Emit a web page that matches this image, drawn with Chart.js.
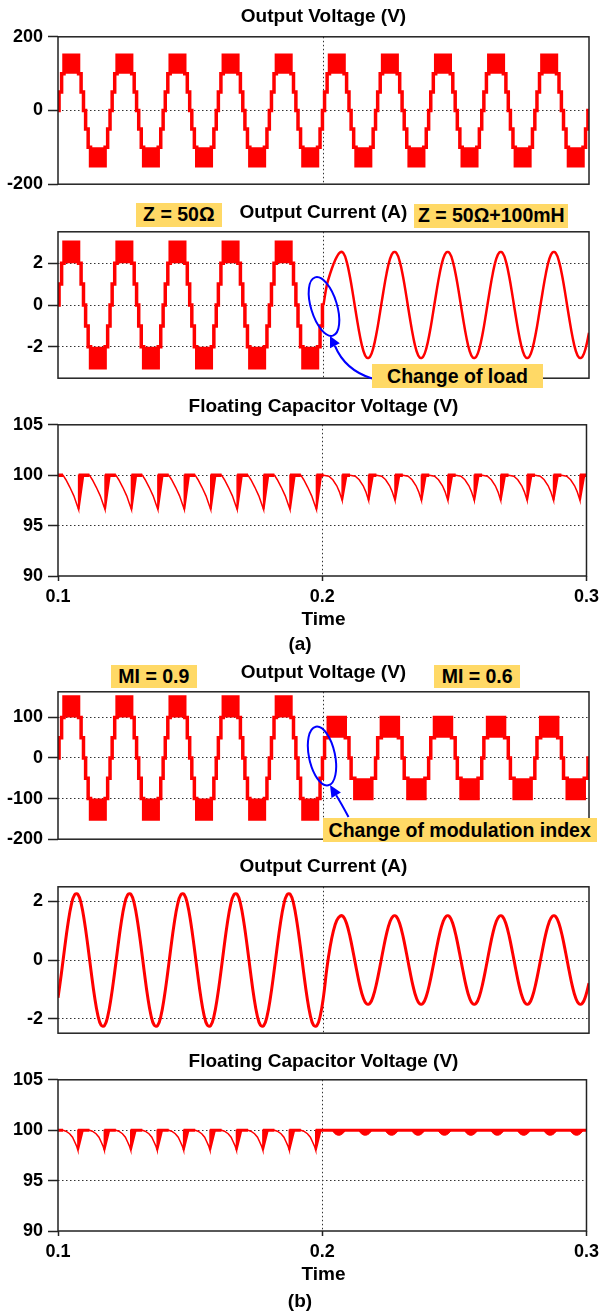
<!DOCTYPE html>
<html lang="en">
<head>
<meta charset="UTF-8">
<title>Output voltage, output current and floating capacitor voltage</title>
<script src="https://cdn.jsdelivr.net/npm/chart.js"></script>
<style>
  body { margin: 0; background: #fff; font-family: "Liberation Sans", Arial, sans-serif; }
  #page { position: relative; width: 604px; height: 1313px; overflow: hidden; }
  canvas { position: absolute; left: 0; }
  .ttl { position: absolute; left: 123.5px; width: 400px; text-align: center; font-weight: bold;
         font-size: 19px; line-height: 19px; color: #000; white-space: nowrap; z-index: 3; }
  .box { position: absolute; background: #ffd966; font-weight: bold; font-size: 19.5px;
         text-align: center; color: #000; white-space: nowrap; z-index: 3; }
  svg { position: absolute; left: 0; top: 0; z-index: 2; }
</style>
</head>
<body>
<div id="page">
  <canvas id="c1" width="604" height="179" style="top:21px"></canvas>
  <canvas id="c2" width="604" height="178" style="top:216px"></canvas>
  <canvas id="c3" width="604" height="207" style="top:409px"></canvas>
  <canvas id="c4" width="604" height="179" style="top:676px"></canvas>
  <canvas id="c5" width="604" height="178" style="top:871px"></canvas>
  <canvas id="c6" width="604" height="207" style="top:1064px"></canvas>

  <div class="ttl" style="top:6px">Output Voltage (V)</div>
  <div class="ttl" style="top:201.6px">Output Current (A)</div>
  <div class="ttl" style="top:395.6px">Floating Capacitor Voltage (V)</div>
  <div class="ttl" style="top:608.9px">Time</div>
  <div class="ttl" style="top:634px; left:100px">(a)</div>
  <div class="ttl" style="top:662.2px">Output Voltage (V)</div>
  <div class="ttl" style="top:856.2px">Output Current (A)</div>
  <div class="ttl" style="top:1050.6px">Floating Capacitor Voltage (V)</div>
  <div class="ttl" style="top:1263.9px">Time</div>
  <div class="ttl" style="top:1290.6px; left:100px">(b)</div>

  <div class="box" style="left:136px; top:203.3px; width:85.7px; height:23.4px; line-height:23.4px">Z = 50Ω</div>
  <div class="box" style="left:414.3px; top:204.3px; width:154px; height:23.4px; line-height:23.4px">Z = 50Ω+100mH</div>
  <div class="box" style="left:371.7px; top:363.5px; width:171.6px; height:24px; line-height:24px">Change of load</div>
  <div class="box" style="left:111px; top:665px; width:85.7px; height:23.4px; line-height:23.4px">MI = 0.9</div>
  <div class="box" style="left:434.3px; top:665px; width:85.7px; height:23.4px; line-height:23.4px">MI = 0.6</div>
  <div class="box" style="left:322.7px; top:817.7px; width:274px; height:24px; line-height:24px">Change of modulation index</div>

  <svg width="604" height="1313" viewBox="0 0 604 1313">
    <ellipse cx="324" cy="306.5" rx="13" ry="30.5" transform="rotate(-17 324 306.5)" fill="none" stroke="#0000ff" stroke-width="2"/>
    <path d="M 372 378.5 Q 345 370 335 346" fill="none" stroke="#0000ff" stroke-width="2"/>
    <polygon points="330,336 339.8,343.3 330,348.3" fill="#0000ff"/>
    <ellipse cx="322" cy="756" rx="13" ry="30" transform="rotate(-12 322 756)" fill="none" stroke="#0000ff" stroke-width="2"/>
    <path d="M 348.5 817 Q 341 803 336.2 795.3" fill="none" stroke="#0000ff" stroke-width="2"/>
    <polygon points="330,785 340.9,792.5 331.5,798.1" fill="#0000ff"/>
  </svg>
</div>

<script>
// ---- time base (s)
const xTicks = [0.1, 0.2, 0.3];
const period = 0.02;
const halfPer = 0.01;
const cyc1 = [0.10, 0.12, 0.14, 0.16, 0.18];
const cyc2 = [0.20, 0.22, 0.24, 0.26, 0.28];
const halves1 = [0.10, 0.11, 0.12, 0.13, 0.14, 0.15, 0.16, 0.17, 0.18, 0.19];
const halves2 = [0.20, 0.21, 0.22, 0.23, 0.24, 0.25, 0.26, 0.27, 0.28, 0.29];

// ---- staircase output, one fundamental cycle (phase = fraction of period)
const stepPh09 = [0, 0.02, 0.068, 0.113, 0.387, 0.435, 0.48, 0.52, 0.568, 0.613, 0.887, 0.935, 0.98];
const voltLvl09 = [0, 50, 100, 150, 100, 50, 0, -50, -100, -150, -100, -50, 0];
const curLvl09 = [0, 1, 2, 3, 2, 1, 0, -1, -2, -3, -2, -1, 0];
const blkPos09 = [0.113, 0.387];
const blkNeg09 = [0.613, 0.887];

const stepPh06 = [0, 0.02, 0.09, 0.41, 0.48, 0.52, 0.59, 0.91, 0.98];
const voltLvl06 = [0, 50, 100, 50, 0, -50, -100, -50, 0];
const blkPos06 = [0.09, 0.41];
const blkNeg06 = [0.59, 0.91];

// ---- sinusoidal currents, 16 samples per cycle
const curA2First = [0, 0.95, 1.5, 1.95, 2.3, 2.52, 2.48, 2.06, 1.33, 0.39, -0.6, -1.5, -2.18, -2.52, -2.48, -2.06];
const curA2 = [-1.33, -0.39, 0.6, 1.5, 2.18, 2.52, 2.48, 2.06, 1.33, 0.39, -0.6, -1.5, -2.18, -2.52, -2.48, -2.06];
const curB1 = [-1.29, -0.48, 0.41, 1.24, 1.88, 2.23, 2.24, 1.92, 1.29, 0.48, -0.41, -1.24, -1.88, -2.23, -2.24, -1.92];
const curB2First = [-1.25, -0.3, 0.45, 1.0, 1.35, 1.5, 1.48, 1.23, 0.79, 0.23, -0.36, -0.9, -1.3, -1.5, -1.48, -1.23];
const curB2 = [-0.79, -0.23, 0.36, 0.9, 1.3, 1.5, 1.48, 1.23, 0.79, 0.23, -0.36, -0.9, -1.3, -1.5, -1.48, -1.23];

// ---- floating capacitor dips, one half cycle (phase = fraction of half period)
const capA1Ph = [0.19, 0.3, 0.45, 0.6, 0.7, 0.78];
const capA1V = [100, 99.55, 98.8, 97.95, 97.2, 96.6];
const capA1Top = 0.96;
const capA2Ph = [0.05, 0.25, 0.4, 0.55, 0.65, 0.753];
const capA2V = [100, 99.9, 99.55, 98.95, 98.35, 97.5];
const capA2Top = 0.92;
const capB1Ph = [0.19, 0.3, 0.44, 0.55, 0.63, 0.7, 0.754];
const capB1V = [100, 99.9, 99.65, 99.3, 98.85, 98.45, 98.0];
const capB1Top = 0.94;
const rippleB2Ph = [0.38, 0.48, 0.63, 0.77, 0.88];
const rippleB2V = [100, 99.65, 99.5, 99.65, 100];

const red = '#ff0000';
const fontFam = '"Liberation Sans", Arial, sans-serif';

function stairs(cycles, ph, lvl) {
  const out = [];
  cycles.forEach(c => ph.forEach((p, i) => out.push({x: c + p * period, y: lvl[i]})));
  return out;
}

function blocks(cycles, ph, outer) {
  const out = [];
  cycles.forEach(c => {
    out.push({x: c + ph[0] * period, y: outer}, {x: c + ph[1] * period, y: outer}, {x: c + ph[1] * period, y: null});
  });
  return out;
}

function wave(cycles, tmpl, first) {
  const out = [];
  cycles.forEach((c, k) => {
    const vals = (k === 0 && first) ? first : tmpl;
    vals.forEach((v, j) => out.push({x: c + j * period / vals.length, y: v}));
  });
  return out;
}

function capTrace(segs) {
  const line = [{x: 0.1, y: 100}];
  const wedge = [];
  const flat = [{x: 0.1, y: 100}, {x: segs[0].h + segs[0].ph[0] * halfPer, y: 100}, {x: 0.1, y: null}];
  segs.forEach((s, k) => {
    s.ph.forEach((p, i) => line.push({x: s.h + p * halfPer, y: s.v[i]}));
    const last = s.ph.length - 1;
    const tMin = s.h + s.ph[last] * halfPer;
    line.push({x: tMin, y: 100});
    wedge.push({x: tMin, y: s.v[last]}, {x: s.h + s.top * halfPer, y: 100}, {x: s.h + s.top * halfPer, y: null});
    const nxt = segs[k + 1];
    const tEnd = nxt ? nxt.h + nxt.ph[0] * halfPer : 0.3;
    flat.push({x: tMin, y: 100}, {x: tEnd, y: 100}, {x: tEnd, y: null});
  });
  line.push({x: 0.3, y: 100});
  return {line, wedge, flat};
}

function ds(data, w, extra) {
  return Object.assign({data, borderColor: red, backgroundColor: red, borderWidth: w,
    pointRadius: 0, fill: false, tension: 0}, extra || {});
}

const framePlugin = {
  id: 'frame',
  afterDatasetsDraw(chart) {
    const {ctx, chartArea: a} = chart;
    ctx.save();
    ctx.strokeStyle = '#222';
    ctx.lineWidth = 1.5;
    ctx.strokeRect(a.left, a.top, a.right - a.left, a.bottom - a.top);
    ctx.restore();
  }
};

function makeChart(id, datasets, yMin, yMax, yTicks, showX) {
  const tickFont = {family: fontFam, size: 18, weight: 'bold'};
  return new Chart(document.getElementById(id), {
    type: 'line',
    data: {datasets},
    plugins: [framePlugin],
    options: {
      responsive: false,
      animation: false,
      events: [],
      layout: {padding: {top: 12, right: 15, bottom: showX ? 0 : 12, left: 0}},
      plugins: {legend: {display: false}, tooltip: {enabled: false}},
      scales: {
        x: {
          type: 'linear', min: 0.1, max: 0.3,
          afterBuildTicks: s => { s.ticks = xTicks.map(v => ({value: v})); },
          afterFit: s => { s.height = showX ? 40 : 0; },
          ticks: {display: showX, font: tickFont, color: '#000', padding: 5, maxRotation: 0, autoSkip: false,
                  callback: v => v.toFixed(1)},
          grid: {
            color: c => (c.tick && Math.abs(c.tick.value - 0.2) < 1e-9) ? '#333' : 'rgba(0,0,0,0)',
            lineWidth: 1, drawTicks: showX, tickLength: 5, tickColor: '#222', tickWidth: 1.5, tickBorderDash: []
          },
          border: {display: false, dash: [1.5, 2.5]}
        },
        y: {
          min: yMin, max: yMax,
          afterBuildTicks: s => { s.ticks = yTicks.map(v => ({value: v})); },
          afterFit: s => { s.width = 58; },
          ticks: {font: tickFont, color: '#000', padding: 5, callback: v => String(v)},
          grid: {
            color: c => (c.tick && c.tick.value !== yMin && c.tick.value !== yMax) ? '#333' : 'rgba(0,0,0,0)',
            lineWidth: 1, drawTicks: true, tickLength: 10, tickColor: '#222', tickWidth: 1.5, tickBorderDash: []
          },
          border: {display: false, dash: [1.5, 2.5]}
        }
      }
    }
  });
}

// (a) output voltage
makeChart('c1', [
  ds(stairs(cyc1.concat(cyc2), stepPh09, voltLvl09).concat([{x: 0.3, y: 0}]), 3.5, {stepped: true}),
  ds(blocks(cyc1.concat(cyc2), blkPos09, 150), 1, {fill: {value: 100}}),
  ds(blocks(cyc1.concat(cyc2), blkNeg09, -150), 1, {fill: {value: -100}})
], -200, 200, [-200, 0, 200], false);

// (a) output current
makeChart('c2', [
  ds(stairs(cyc1, stepPh09, curLvl09).concat([{x: 0.2, y: 0}]), 3.5, {stepped: true}),
  ds(blocks(cyc1, blkPos09, 3), 1, {fill: {value: 2}}),
  ds(blocks(cyc1, blkNeg09, -3), 1, {fill: {value: -2}}),
  ds(wave(cyc2, curA2, curA2First).concat([{x: 0.3, y: curA2[0]}]), 2.5, {tension: 0.4})
], -3.5, 3.5, [-2, 0, 2], false);

// (a) floating capacitor voltage
const capA = capTrace(halves1.map(h => ({h, ph: capA1Ph, v: capA1V, top: capA1Top}))
  .concat(halves2.map(h => ({h, ph: capA2Ph, v: capA2V, top: capA2Top}))));
makeChart('c3', [
  ds(capA.line, 1.5),
  ds(capA.wedge, 2, {fill: {value: 100}}),
  ds(capA.flat, 3.5)
], 90, 105, [90, 95, 100, 105], true);

// (b) output voltage
makeChart('c4', [
  ds(stairs(cyc1, stepPh09, voltLvl09).concat(stairs(cyc2, stepPh06, voltLvl06), [{x: 0.3, y: 0}]), 3.5, {stepped: true}),
  ds(blocks(cyc1, blkPos09, 150), 1, {fill: {value: 100}}),
  ds(blocks(cyc1, blkNeg09, -150), 1, {fill: {value: -100}}),
  ds(blocks(cyc2, blkPos06, 100), 1, {fill: {value: 50}}),
  ds(blocks(cyc2, blkNeg06, -100), 1, {fill: {value: -50}})
], -200, 163, [-200, -100, 0, 100], false);

// (b) output current
makeChart('c5', [
  ds(wave(cyc1, curB1).concat(wave(cyc2, curB2, curB2First), [{x: 0.3, y: curB2[0]}]), 3, {tension: 0.4})
], -2.5, 2.5, [-2, 0, 2], false);

// (b) floating capacitor voltage
const capB = capTrace(halves1.map(h => ({h, ph: capB1Ph, v: capB1V, top: capB1Top})));
const rippleB = [];
halves2.forEach(h => {
  rippleB2Ph.forEach((p, i) => rippleB.push({x: h + p * halfPer, y: rippleB2V[i]}));
  rippleB.push({x: h + rippleB2Ph[rippleB2Ph.length - 1] * halfPer, y: null});
});
makeChart('c6', [
  ds(capB.line, 1.5),
  ds(capB.wedge, 2, {fill: {value: 100}}),
  ds(capB.flat, 3),
  ds(rippleB, 1, {fill: {value: 100}, tension: 0.4})
], 90, 105, [90, 95, 100, 105], true);
</script>
</body>
</html>
